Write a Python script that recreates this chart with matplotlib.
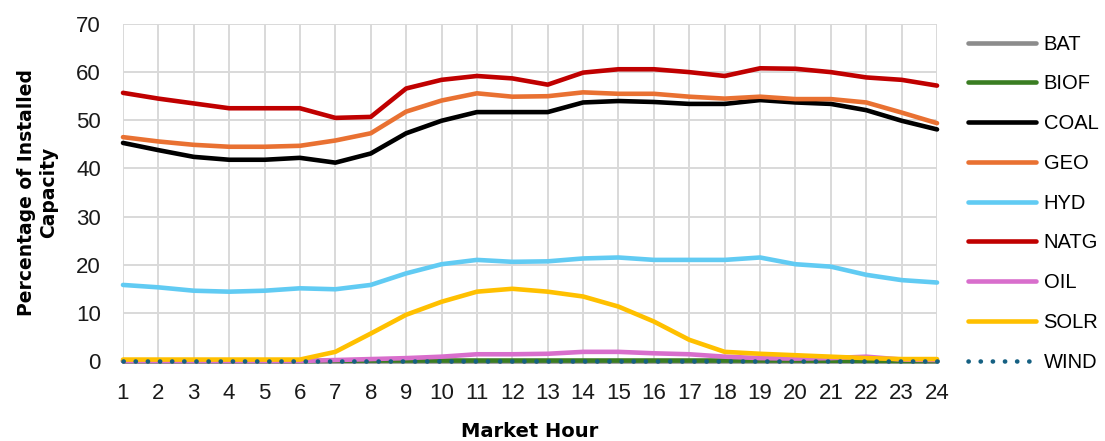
import matplotlib
matplotlib.use("Agg")
import matplotlib.pyplot as plt
from matplotlib.lines import Line2D

hours = list(range(1, 25))

bat = [0.0] * 24
biof = [0.0, 0.0, 0.0, 0.0, 0.0, 0.0, 0.05, 0.1, 0.1, 0.1, 0.1, 0.1,
        0.1, 0.1, 0.1, 0.1, 0.1, 0.1, 0.1, 0.1, 0.05, 0.05, 0.0, 0.0]
coal = [45.3, 43.8, 42.4, 41.8, 41.8, 42.2, 41.2, 43.1, 47.3, 49.9, 51.7, 51.7,
        51.7, 53.7, 54.0, 53.8, 53.4, 53.4, 54.2, 53.7, 53.4, 52.1, 49.9, 48.1]
geo = [46.5, 45.6, 44.9, 44.5, 44.5, 44.7, 45.8, 47.3, 51.8, 54.1, 55.6, 54.9,
       55.0, 55.8, 55.5, 55.5, 54.9, 54.5, 54.9, 54.4, 54.4, 53.7, 51.6, 49.4]
hyd = [15.8, 15.3, 14.6, 14.4, 14.6, 15.1, 14.9, 15.8, 18.2, 20.1, 21.0, 20.6,
       20.7, 21.3, 21.5, 21.0, 21.0, 21.0, 21.5, 20.1, 19.6, 17.9, 16.8, 16.3]
natg = [55.7, 54.5, 53.5, 52.5, 52.5, 52.5, 50.5, 50.7, 56.6, 58.4, 59.2, 58.7,
        57.4, 59.9, 60.6, 60.6, 60.0, 59.2, 60.8, 60.7, 60.0, 58.9, 58.4, 57.2]
oil = [0.0, 0.0, 0.0, 0.0, 0.0, 0.0, 0.2, 0.4, 0.6, 0.9, 1.4, 1.4,
       1.5, 1.9, 1.9, 1.6, 1.4, 0.9, 0.6, 0.5, 0.6, 0.9, 0.3, 0.2]
solr = [0.3, 0.3, 0.3, 0.3, 0.3, 0.3, 1.9, 5.7, 9.6, 12.3, 14.4, 15.0,
        14.4, 13.4, 11.3, 8.2, 4.4, 1.9, 1.5, 1.2, 0.9, 0.6, 0.4, 0.4]
wind = [0.0] * 24

y_ticks = [0, 10, 20, 30, 40, 50, 60, 70]

series = [
    ("BAT", bat, "#8c8c8c", "-"),
    ("BIOF", biof, "#3a7d22", "-"),
    ("COAL", coal, "#000000", "-"),
    ("GEO", geo, "#e97132", "-"),
    ("HYD", hyd, "#61cbf3", "-"),
    ("NATG", natg, "#c00000", "-"),
    ("OIL", oil, "#d86ecc", "-"),
    ("SOLR", solr, "#ffc000", "-"),
    ("WIND", wind, "#156082", (0, (0.05, 2.6))),
]

LW = 3.3

fig = plt.figure(figsize=(11.05, 4.41), dpi=100)
ax = fig.add_axes([0.1113, 0.1814, 0.7367, 0.7642])

handles = []
for name, vals, color, ls in series:
    ax.plot(hours, vals, color=color, lw=LW, ls=ls,
            solid_capstyle="round", dash_capstyle="round", clip_on=False)
    handles.append(Line2D([0], [0], color=color, lw=LW, ls=ls,
                          solid_capstyle="round", dash_capstyle="round"))

ax.set_xlim(1, 24)
ax.set_ylim(0, 70)
ax.set_xticks(hours)
ax.set_yticks(y_ticks)
ax.grid(True, color="#d9d9d9", lw=1.4)
ax.set_axisbelow(True)
for s in ax.spines.values():
    s.set_visible(False)
ax.tick_params(length=0)
ax.tick_params(axis="y", pad=16)
ax.tick_params(axis="x", pad=16)
for t in ax.get_yticklabels():
    t.set_fontfamily(["Liberation Sans", "DejaVu Sans"])
    t.set_fontsize(16)
    t.set_color("#1a1a1a")
for t in ax.get_xticklabels():
    t.set_fontfamily(["Liberation Sans Narrow", "Liberation Sans", "DejaVu Sans"])
    t.set_fontsize(16)
    t.set_color("#1a1a1a")

ax.set_xlabel("Market Hour", fontsize=14, fontweight="bold",
              fontfamily=["DejaVu Sans"], labelpad=13)
ax.set_ylabel("Percentage of Installed\nCapacity", fontsize=13.5, fontweight="bold",
              fontfamily=["DejaVu Sans"], labelpad=13,
              linespacing=1.2)

fig.legend(handles, [s[0] for s in series], loc="upper left",
           bbox_to_anchor=(0.860, 0.9626), frameon=False,
           prop={"family": ["Liberation Sans", "DejaVu Sans"], "size": 14.5},
           handlelength=3.38, handletextpad=0.35, labelspacing=1.03)

fig.savefig("out.png", dpi=100, facecolor="white")
